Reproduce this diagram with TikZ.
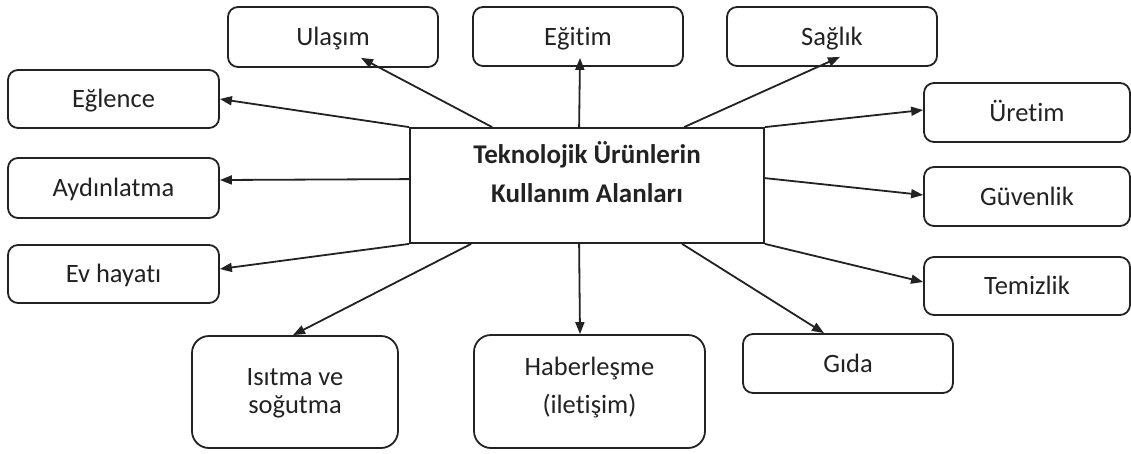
\documentclass[tikz,border=0pt]{standalone}
\usepackage{fontspec}
\setmainfont{Carlito}[Ligatures={NoCommon}]
\usetikzlibrary{arrows.meta}

\definecolor{ink}{HTML}{222222}

\tikzset{
  area/.style={draw=ink, line width=1.8pt, rounded corners=10pt, inner sep=0pt,
    text=ink, font=\fontsize{26.5}{32}\selectfont,
    text height=17pt, text depth=0pt, anchor=center},
  tallarea/.style={area, rounded corners=17pt, align=flush center},
  hubbox/.style={draw=ink, line width=1.8pt, inner sep=0pt, text=ink,
    align=flush center, anchor=center},
  link/.style={draw=ink, line width=1.8pt, -{Triangle[length=12pt,width=9pt]}}
}

\begin{document}
\begin{tikzpicture}[x=1pt, y=-1pt]
\useasboundingbox[fill=white] (0,0) rectangle (1131,453);

% central topic
\node[hubbox, minimum width=354pt, minimum height=115pt,
      text width=354pt, text height=17pt, text depth=62pt,
      font=\fontsize{27}{39}\selectfont\bfseries] (hub) at (587,185.5)
  {Teknolojik Ürünlerin\\Kullanım Alanları};

% top row
\node[area, minimum width=210pt, minimum height=60pt] (ulasim) at (333,37) {Ulaşım};
\node[area, minimum width=210pt, minimum height=59pt] (egitim) at (578,36.5) {Eğitim};
\node[area, minimum width=210pt, minimum height=59pt] (saglik) at (832,36.5) {Sağlık};

% left column
\node[area, minimum width=211pt, minimum height=58pt] (eglence) at (113.5,99) {Eğlence};
\node[area, minimum width=211pt, minimum height=60pt] (aydin) at (113.5,188) {Aydınlatma};
\node[area, minimum width=211pt, minimum height=58pt] (ev) at (113.5,274) {Ev hayatı};

% right column
\node[area, minimum width=206pt, minimum height=59pt] (uretim) at (1027,112.5) {Üretim};
\node[area, minimum width=206pt, minimum height=59pt] (guvenlik) at (1027,196.5) {Güvenlik};
\node[area, minimum width=206pt, minimum height=58pt] (temizlik) at (1027,286) {Temizlik};

% bottom row
\node[tallarea, minimum width=206pt, minimum height=112pt, text width=206pt,
      text depth=31pt, font=\fontsize{26.5}{28}\selectfont] (isitma) at (295,392)
  {Isıtma ve\\soğutma};
\node[tallarea, minimum width=231pt, minimum height=113pt, text width=231pt,
      text depth=48.6pt, font=\fontsize{26.5}{37.5}\selectfont] (haber) at (589.5,391.5)
  {Haberleşme\\(iletişim)};
\node[area, minimum width=210pt, minimum height=59pt] (gida) at (848,363.5) {Gıda};

% connectors from the central topic
\draw[link] ([xshift=83pt]hub.north west) -- ([xshift=28pt,yshift=10pt]ulasim.south);
\draw[link] ([xshift=170pt]hub.north west) -- ([xshift=2pt,yshift=9pt]egitim.south);
\draw[link] ([xshift=275pt]hub.north west) -- ([xshift=8pt,yshift=10pt]saglik.south);

\draw[link] (hub.north west) -- (eglence.east);
\draw[link] ([yshift=-52pt]hub.north west) -- ([yshift=8pt]aydin.east);
\draw[link] (hub.south west) -- ([yshift=5pt]ev.east);

\draw[link] (hub.north east) -- ([yshift=2.5pt]uretim.west);
\draw[link] ([yshift=-51pt]hub.north east) -- ([yshift=1.5pt]guvenlik.west);
\draw[link] (hub.south east) -- ([yshift=4pt]temizlik.west);

\draw[link] ([xshift=62pt]hub.south west) -- ([xshift=-2pt]isitma.north);
\draw[link] ([xshift=170pt]hub.south west) -- ([xshift=-9.5pt]haber.north);
\draw[link] ([xshift=273pt]hub.south west) -- ([xshift=-24pt]gida.north);
\end{tikzpicture}
\end{document}
